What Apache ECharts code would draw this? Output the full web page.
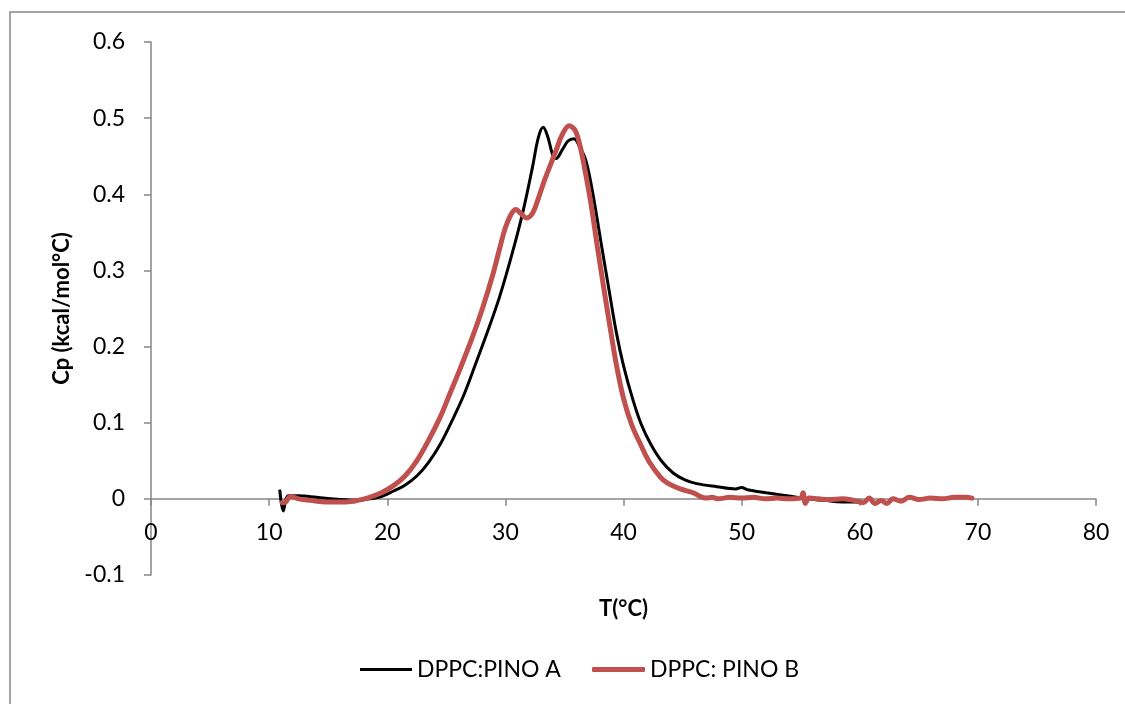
<!DOCTYPE html>
<html>
<head>
<meta charset="utf-8">
<script src="https://cdn.jsdelivr.net/npm/echarts@6/dist/echarts.min.js"></script>
<style>
  html, body { margin: 0; padding: 0; background: #fff; }
  #chart { width: 1125px; height: 704px; }
</style>
</head>
<body>
<div id="chart"></div>
<script>
// DSC thermograms of DPPC:PINO samples (heat capacity vs temperature)
const tempA = [10.9, 11.2, 11.6, 12.5, 14, 16, 17.5, 18.5, 19.5, 20.5, 21.5, 22.5, 23.5, 24.5, 25.5, 26.5, 27.5, 28.5, 29.5, 30.5, 31.5, 32.3, 32.8, 33.2, 33.6, 34.0, 34.3, 34.8, 35.3, 35.8, 36.3, 36.8, 37.3, 37.8, 38.2, 38.8, 39.4, 40.0, 40.8, 41.5, 42.3, 43.2, 44.2, 45.2, 46.2, 47.9, 49.5, 50.0, 50.5, 52.1, 54.3, 55.5, 57, 58.5, 60];
const cpA   = [0.012, -0.016, 0.004, 0.004, 0.002, -0.001, -0.002, 0.0, 0.003, 0.010, 0.018, 0.030, 0.048, 0.072, 0.103, 0.137, 0.178, 0.220, 0.265, 0.318, 0.378, 0.436, 0.475, 0.488, 0.475, 0.452, 0.447, 0.458, 0.470, 0.473, 0.462, 0.445, 0.410, 0.365, 0.327, 0.272, 0.218, 0.175, 0.130, 0.098, 0.072, 0.050, 0.034, 0.025, 0.020, 0.016, 0.013, 0.015, 0.012, 0.008, 0.003, 0.0, -0.002, -0.004, -0.004];

const tempB = [11.1, 11.4, 11.8, 12.5, 13.5, 15, 16.5, 17.5, 18.5, 19.5, 20.5, 21.5, 22.5, 23.5, 24.5, 25.3, 26.2, 27.2, 28.1, 29.0, 29.5, 30.0, 30.5, 30.9, 31.3, 31.8, 32.3, 32.8, 33.3, 33.8, 34.3, 34.8, 35.4, 35.9, 36.3, 36.6, 37.2, 37.8, 38.4, 38.9, 39.4, 40.0, 40.7, 41.4, 42.2, 43.1, 43.7, 44.8, 45.9, 46.5, 47, 47.5, 48, 49, 50, 51, 52, 53, 54, 55, 55.2, 55.4, 55.7, 56.5, 57.5, 58.5, 59.5, 60.3, 60.8, 61.3, 61.8, 62.3, 62.8, 63.5, 64.2, 65, 66, 67, 68, 69, 69.5];
const cpB   = [-0.005, -0.004, 0.003, 0.0, -0.002, -0.004, -0.004, -0.002, 0.002, 0.008, 0.017, 0.030, 0.050, 0.077, 0.108, 0.138, 0.172, 0.212, 0.252, 0.298, 0.328, 0.356, 0.374, 0.380, 0.375, 0.369, 0.375, 0.395, 0.418, 0.438, 0.458, 0.478, 0.490, 0.484, 0.465, 0.443, 0.392, 0.330, 0.270, 0.222, 0.176, 0.132, 0.097, 0.073, 0.048, 0.029, 0.021, 0.013, 0.008, 0.003, 0.001, 0.002, 0.0, 0.002, 0.001, 0.002, 0.0, 0.001, 0.0, 0.001, 0.008, -0.006, 0.001, 0.0, -0.001, 0.0, -0.002, -0.005, 0.001, -0.006, -0.002, -0.006, 0.0, -0.003, 0.002, -0.001, 0.001, 0.0, 0.002, 0.002, 0.001];

const seriesNames = ['DPPC:PINO A', 'DPPC: PINO B'];
const seriesColors = ['#000000', '#C0504D'];

const zip = (xs, ys) => xs.map((x, i) => [x, ys[i]]);

const FONT = 'Lato, "Noto Sans", sans-serif';
const AXIS_GREY = '#868686';

const chart = echarts.init(document.getElementById('chart'), null, { renderer: 'canvas' });

const legendText = { fontFamily: FONT, fontSize: 23, color: '#000' };

chart.setOption({
  animation: false,
  backgroundColor: '#fff',
  textStyle: { fontFamily: FONT, color: '#000' },
  graphic: [{
    type: 'rect',
    shape: { x: 10, y: 12, width: 1140, height: 720 },
    style: { fill: 'none', stroke: AXIS_GREY, lineWidth: 1.5 },
    silent: true
  }],
  grid: { left: 151, right: 29, top: 42, bottom: 129, containLabel: false },
  xAxis: {
    type: 'value',
    min: 0, max: 80, interval: 10,
    name: 'T(°C)',
    nameLocation: 'middle',
    nameGap: 23,
    nameTextStyle: { fontFamily: FONT, fontSize: 22, fontWeight: 'bold', color: '#000' },
    axisLine: { onZero: true, lineStyle: { color: AXIS_GREY, width: 1.5 } },
    axisTick: { show: true, length: 7, inside: false, lineStyle: { color: AXIS_GREY, width: 1.5 } },
    axisLabel: { fontFamily: FONT, fontSize: 23, color: '#000', margin: -54 },
    splitLine: { show: false }
  },
  yAxis: {
    type: 'value',
    min: -0.1, max: 0.6, interval: 0.1,
    name: 'Cp (kcal/mol°C)',
    nameLocation: 'middle',
    nameGap: 78,
    nameRotate: 90,
    nameTextStyle: { fontFamily: FONT, fontSize: 22, fontWeight: 'bold', color: '#000' },
    axisLine: { show: true, onZero: false, lineStyle: { color: AXIS_GREY, width: 1.5 } },
    axisTick: { show: true, length: 7, lineStyle: { color: AXIS_GREY, width: 1.5 } },
    axisLabel: {
      fontFamily: FONT, fontSize: 23, color: '#000', margin: 26,
      formatter: v => (Math.abs(v) < 1e-9 ? '0' : String(Math.round(v * 10) / 10))
    },
    splitLine: { show: false }
  },
  legend: [
    {
      left: 360, top: 658, padding: 0,
      itemWidth: 52, itemHeight: 3, itemGap: 6,
      icon: 'rect',
      textStyle: legendText,
      data: [seriesNames[0]]
    },
    {
      left: 592, top: 658, padding: 0,
      itemWidth: 53, itemHeight: 5,
      icon: 'roundRect',
      textStyle: legendText,
      data: [seriesNames[1]]
    }
  ],
  series: [
    {
      name: seriesNames[0],
      type: 'line',
      data: zip(tempA, cpA),
      smooth: 0.35,
      showSymbol: false,
      symbol: 'none',
      lineStyle: { color: seriesColors[0], width: 3 },
      itemStyle: { color: seriesColors[0] },
      z: 2
    },
    {
      name: seriesNames[1],
      type: 'line',
      data: zip(tempB, cpB),
      smooth: 0.35,
      showSymbol: false,
      symbol: 'none',
      lineStyle: { color: seriesColors[1], width: 5, cap: 'round', join: 'round' },
      itemStyle: { color: seriesColors[1] },
      z: 3
    }
  ]
});
</script>
</body>
</html>
